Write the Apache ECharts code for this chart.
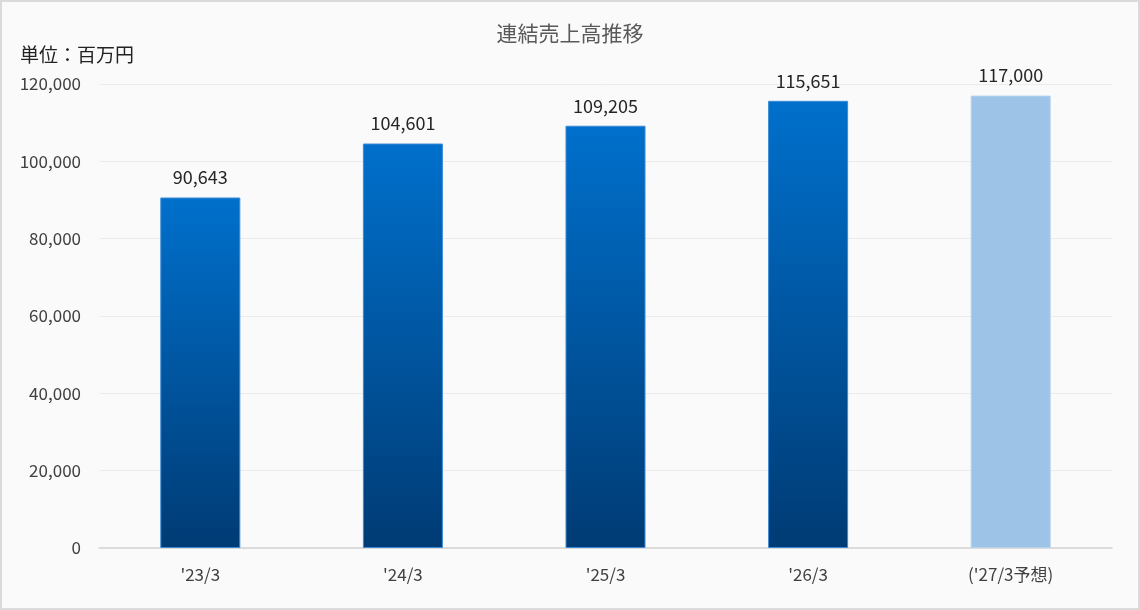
<!DOCTYPE html>
<html>
<head>
<meta charset="utf-8">
<script src="https://cdn.jsdelivr.net/npm/echarts@6/dist/echarts.min.js"></script>
<style>
html,body{margin:0;padding:0;background:#fff;}
#chart{width:1140px;height:610px;box-sizing:border-box;border:2px solid #dadada;background:#fafafa;}
</style>
</head>
<body>
<div id="chart"></div>
<script>
var categories=["'23/3","'24/3","'25/3","'26/3","('27/3予想)"];
var salesValues=[90643,104601,109205,115651,117000];
var forecastIndex=4;
var yTicks=[0,20000,40000,60000,80000,100000,120000];

var font='"Noto Sans CJK JP", "Noto Sans", sans-serif';
var myChart=echarts.init(document.getElementById('chart'));

//実績はグラデーション、予想は淡い青
var barData=salesValues.map(function(v,i){
	if(i===forecastIndex){
		return {value:v,itemStyle:{color:'#9dc3e6',borderColor:'#b4d2ee',borderWidth:1}};
	}
	return {value:v,itemStyle:{
		color:new echarts.graphic.LinearGradient(0,0,0,1,[
			{offset:0,color:'#0070cc'},
			{offset:1,color:'#003b74'}
		]),
		borderColor:'#3b8ad6',borderWidth:1
	}};
});

var option={
	backgroundColor:'#fafafa',
	textStyle:{fontFamily:font},
	title:{
		text:'連結売上高推移',
		left:'center',
		top:16,
		textStyle:{fontSize:21,fontWeight:'normal',color:'#595959',fontFamily:font}
	},
	graphic:[{
		type:'text',
		left:18,
		top:43,
		style:{text:'単位：百万円',fontSize:19,fill:'#222',fontFamily:font}
	}],
	grid:{left:97,right:26,top:82,bottom:60,containLabel:false},
	xAxis:{
		type:'category',
		data:categories,
		axisLine:{lineStyle:{color:'#d4d4d4',width:1.5}},
		axisTick:{show:false},
		axisLabel:{color:'#404040',fontSize:17,margin:18,fontFamily:font}
	},
	yAxis:{
		type:'value',
		min:yTicks[0],
		max:yTicks[yTicks.length-1],
		interval:yTicks[1]-yTicks[0],
		axisLine:{show:false},
		axisTick:{show:false},
		splitLine:{lineStyle:{color:'#ececec'}},
		axisLabel:{
			color:'#404040',fontSize:17,margin:18,fontFamily:font,
			formatter:function(v){return v.toLocaleString('en-US');}
		}
	},
	series:[{
		type:'bar',
		data:barData,
		barWidth:80,
		label:{
			show:true,
			position:'top',
			distance:11,
			color:'#262626',
			fontSize:18,
			fontFamily:font,
			formatter:function(p){return p.value.toLocaleString('en-US');}
		}
	}]
};
myChart.setOption(option);
</script>
</body>
</html>
